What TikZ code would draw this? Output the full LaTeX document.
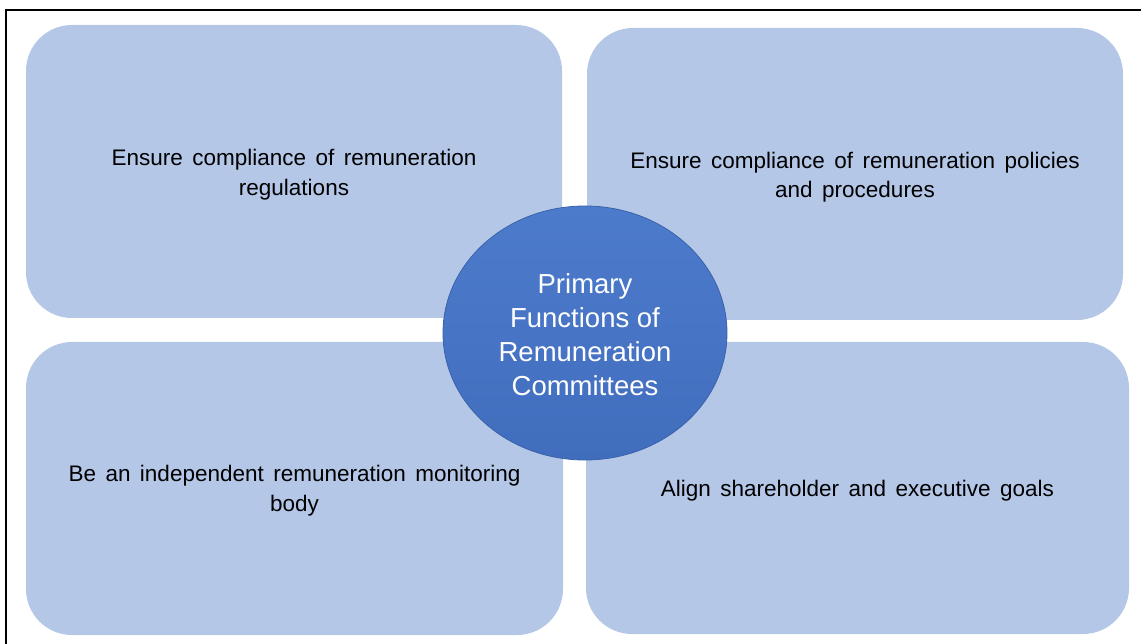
\documentclass[tikz,border=0pt]{standalone}
\usepackage{fontspec}
\setmainfont{Liberation Sans}
\usetikzlibrary{shapes.geometric}

\definecolor{boxfill}{HTML}{B4C7E7}
\definecolor{hubtop}{HTML}{4D7BCC}
\definecolor{hubbottom}{HTML}{416DBD}
\definecolor{hubline}{HTML}{3A62AA}

\begin{document}
\begin{tikzpicture}[x=1pt, y=-1pt,
    duty/.style={rectangle, fill=boxfill, rounded corners=46pt, inner sep=0pt},
    dutytext/.style={align=center, inner sep=0pt,
      font={\fontsize{22.5}{29.5}\selectfont\spaceskip=0.42em plus 0.1em\relax}},
    hub/.style={ellipse, draw=hubline, line width=0.8pt,
      top color=hubtop, bottom color=hubbottom, inner sep=0pt,
      minimum width=284pt, minimum height=254pt, align=center,
      text=white, font=\fontsize{27.5}{34}\selectfont}]
    \useasboundingbox (0,0) rectangle (1141,644);
    \draw[line width=1.6pt] (6,644) -- (6,10) -- (1141,10);

    \begin{scope}[every node/.style={duty}]
      \node[minimum width=536pt, minimum height=293pt] (regs) at (294,171.5) {};
      \node[minimum width=536pt, minimum height=292pt] (policies) at (855,174) {};
      \node[minimum width=537pt, minimum height=293pt] (monitor) at (294.5,488.5) {};
      \node[minimum width=543pt, minimum height=292pt] (goals) at (857.5,488) {};
    \end{scope}

    \begin{scope}[every node/.style={dutytext}]
      \node (regs-t) at ([yshift=-3pt]regs.center)
        {Ensure compliance of remuneration\\regulations};
      \node (policies-t) at ([yshift=-3pt]policies.center)
        {Ensure compliance of remuneration policies\\and procedures};
      \node (monitor-t) at ([yshift=-2pt]monitor.center)
        {Be an independent remuneration monitoring\\body};
      \node (goals-t) at ([yshift=-3pt]goals.center)
        {Align shareholder and executive goals};
    \end{scope}

    \node[hub] (rc) at (585,333) {};
    \node[align=center, text=white, font=\fontsize{27.5}{34}\selectfont]
      (rc-t) at ([yshift=-2pt]rc.center)
      {Primary\\Functions of\\Remuneration\\Committees};
  \end{tikzpicture}
\end{document}
